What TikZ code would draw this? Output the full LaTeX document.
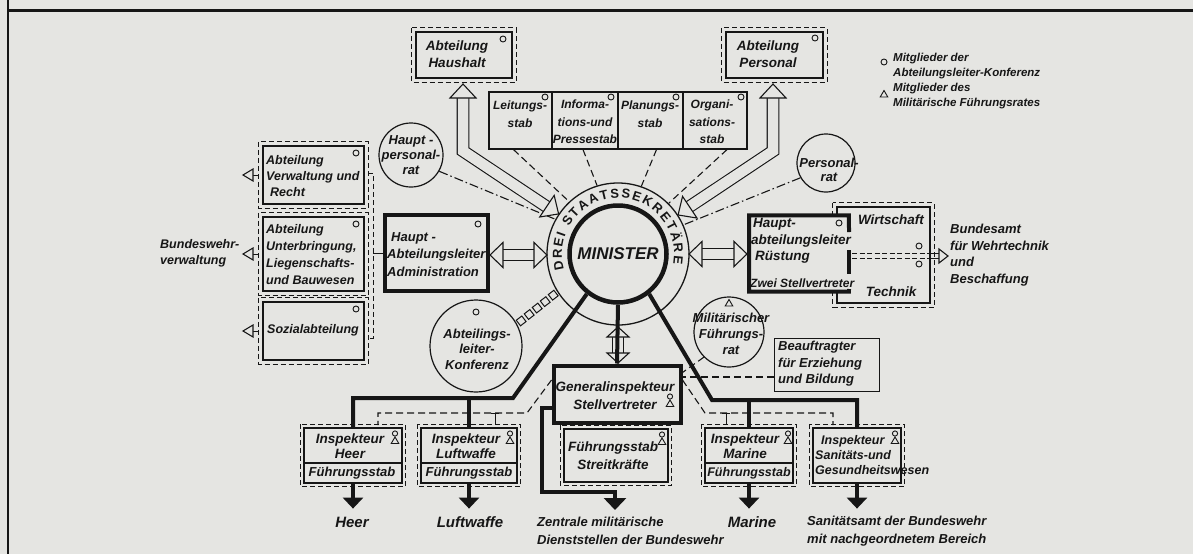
\documentclass[tikz,border=0pt]{standalone}
\usepackage{fontspec}
\setmainfont{Liberation Sans}
\usetikzlibrary{arrows.meta,decorations.text,calc}
\definecolor{paper}{RGB}{229,229,226}
\definecolor{ink}{RGB}{22,22,22}
\newcommand\hhead[4]{\begin{scope}[shift={(#1)},rotate=#2]\filldraw[draw=ink,fill=paper,line width=1.1pt,line join=miter] (0,0) -- (-#3,#4) -- (-#3,-#4) -- cycle;\end{scope}}
\newcommand\odash[2]{\draw[outerd] ([shift={(-#2,-#2)}]#1.north west) rectangle ([shift={(#2,#2)}]#1.south east);}
\newcommand\mem[2]{\draw[ink,line width=0.9pt,fill=paper] (#1,#2) circle[radius=3pt];}
\newcommand\tri[2]{\draw[ink,line width=0.9pt,line join=miter] (#1,#2) ++(0,-3.5) -- ++(-3.8,6.5) -- ++(7.6,0) -- cycle;}
\newcommand\both[2]{\draw[ink,line width=0.9pt] (#1,#2-3.5) circle[radius=2.6pt]; \tri{#1}{#2+3.5}}
\tikzset{
 fnt/.style 2 args={font=\bfseries\itshape\fontsize{#1}{#2}\selectfont},
 lbl/.style={fnt={13.5}{16.5}, align=center, inner sep=0pt, text=ink},
 box/.style={draw=ink, line width=1.2pt, inner sep=0pt, rectangle, fill=paper},
 thickbox/.style={draw=ink, line width=4pt, inner sep=0pt, rectangle, fill=paper},
 outerd/.style={draw=ink, line width=0.9pt, dash pattern=on 5pt off 3pt},
 conn/.style={draw=ink, line width=1.1pt, dash pattern=on 7pt off 4pt},
 dashdot/.style={draw=ink, line width=1.1pt, dash pattern=on 9pt off 3pt on 1.5pt off 3pt},
 main/.style={draw=ink, line width=4pt, line join=miter},
 hollow/.style={draw=ink, double=paper, line width=1.1pt, line join=miter},
 rnd/.style={circle, draw=ink, line width=1.2pt, inner sep=0pt, fill=paper},
 sq/.style={draw=ink, line width=1pt, minimum size=7pt, inner sep=0pt, fill=paper},
}
\begin{document}
\begin{tikzpicture}[x=1pt,y=-1pt]
\useasboundingbox (0,0) rectangle (1193,554);
\fill[paper] (0,0) rectangle (1193,554);
\draw[ink,line width=3pt] (8,10) -- (1193,10);
\draw[ink,line width=2.5pt] (8,0) -- (8,554);

% centre
\node[circle, draw=ink, line width=1.3pt, minimum size=142pt, inner sep=0pt, fill=paper] (ring) at (618,254) {};
\node[circle, draw=ink, line width=4.5pt, minimum size=97pt, inner sep=0pt, fill=paper, text=ink, font=\bfseries\itshape\fontsize{17}{17}\selectfont] (minister) at (618,254) {MINISTER};
\begin{scope}[shift={(618,254)}, y=1pt]
\path[decorate, decoration={text along path, text color=ink, text={|\bfseries\fontsize{13}{13}\selectfont|DREI STAATSSEKRETÄRE}, text align=fit to path}] (196:56) arc[start angle=196, end angle=-10, radius=56];
\end{scope}

% top boxes
\node[box, minimum width=96pt, minimum height=46pt] (haushalt) at (464,55) {};
\odash{haushalt}{3.5}
\node[lbl] (haushaltT) at (457,54) {Abteilung\\Haushalt};
\mem{503}{39}
\node[box, minimum width=97pt, minimum height=46pt] (personal) at (774.5,55) {};
\odash{personal}{3.5}
\node[lbl] (personalT) at (768,54) {Abteilung\\Personal};
\mem{815}{38}

% staff row
\node[box, minimum width=63pt, minimum height=57pt] (leit) at (520.5,120.5) {};
\node[box, minimum width=66pt, minimum height=57pt] (inf) at (585,120.5) {};
\node[box, minimum width=65pt, minimum height=57pt] (plan) at (650.5,120.5) {};
\node[box, minimum width=64pt, minimum height=57pt] (org) at (715,120.5) {};
\node[lbl, fnt={12}{17.5}] (leitT) at (520,114) {Leitungs-\\stab};
\node[lbl, fnt={12}{17.5}] (infT) at (585,122) {Informa-\\tions-und\\Pressestab};
\node[lbl, fnt={12}{17.5}] (planT) at (650,114) {Planungs-\\stab};
\node[lbl, fnt={12}{17.5}] (orgT) at (712,122) {Organi-\\sations-\\stab};
\mem{545}{97} \mem{611}{97} \mem{676}{97} \mem{741}{97}

% legend
\mem{884}{62}
\node[lbl, fnt={11.5}{15}, align=left, anchor=west] (legA) at (893,66) {Mitglieder der\\Abteilungsleiter-Konferenz};
\tri{884}{94}
\node[lbl, fnt={11.5}{15}, align=left, anchor=west] (legB) at (893,96) {Mitglieder des\\Militärische Führungsrates};

% left column
\node[box, minimum width=101pt, minimum height=58pt] (verw) at (313.5,175) {};
\odash{verw}{3.5}
\node[lbl, align=left, anchor=west, fnt={12.5}{16}] (verwT) at (266,176) {Abteilung\\Verwaltung und\\\hspace{4pt}Recht};
\mem{356}{153}
\node[box, minimum width=101pt, minimum height=74pt] (unterb) at (313.5,254) {};
\odash{unterb}{3.5}
\node[lbl, align=left, anchor=west, fnt={12.5}{17}] (unterbT) at (266,255) {Abteilung\\Unterbringung,\\Liegenschafts-\\und Bauwesen};
\mem{356}{224}
\node[box, minimum width=101pt, minimum height=58pt] (sozial) at (313.5,331) {};
\odash{sozial}{3.5}
\node[lbl, fnt={12.5}{16}] (sozialT) at (313,330) {Sozialabteilung};
\mem{356}{309}
\draw[outerd] (368,173) -- (373,173) -- (373,338) -- (368,338);
\node[lbl, fnt={12.5}{16.5}, align=left, anchor=west] (bwv) at (160,253.5) {Bundeswehr-\\verwaltung};
\foreach \yy in {175,254,331}{
 \draw[ink,line width=1pt] (259,\yy) -- (253,\yy);
 \hhead{243,\yy}{180}{10}{6}
}

% Administration
\node[thickbox, minimum width=103pt, minimum height=76pt] (admin) at (436,253) {};
\node[lbl, align=left, anchor=west, fnt={13}{17.5}] (adminT) at (387,254.5) {\hspace{4pt}Haupt -\\Abteilungsleiter\\Administration};
\mem{478}{224}
\draw[ink,line width=1pt] (373,253) -- (admin.west);

% circles
\node[rnd, minimum size=64pt] (hprat) at (411,155) {};
\node[lbl, fnt={13}{15}] (hpratT) at (411,155) {Haupt -\\personal-\\rat};
\node[rnd, minimum size=58pt] (prat) at (826,163) {};
\node[lbl, fnt={13}{14}] (pratT) at (829,170) {Personal-\\rat};
\node[rnd, minimum size=92pt] (konf) at (476,346) {};
\node[lbl, fnt={13}{15.5}] (konfT) at (477,349) {Abteilings-\\leiter-\\Konferenz};
\mem{476}{312}
\node[rnd, minimum size=70pt] (fr) at (729,332) {};
\node[lbl, fnt={13}{16}] (frT) at (731,334) {Militärischer\\Führungs-\\rat};
\tri{729}{303}

% Ruestung + Wirtschaft
\node[box, minimum width=93pt, minimum height=96pt] (wirt) at (883.5,255) {};
\odash{wirt}{3.5}
\node[inner sep=0pt, minimum width=99.5pt, minimum height=76pt, fill=paper] (ruest) at (799,253.5) {};
\draw[ink, line width=4pt, line join=miter] (849,232) -- (ruest.north east) -- (ruest.north west) -- (ruest.south west) -- (ruest.south east) -- (849,289);
\draw[ink, line width=4pt] (849,250) -- (849,274);
\node[lbl, align=left, anchor=west, fnt={13.5}{16.5}] (ruestT) at (751,241) {\hspace{2pt}Haupt-\\abteilungsleiter\\\hspace{4pt}Rüstung};
\node[lbl, anchor=west, fnt={12}{14}] (zwei) at (750,283) {Zwei Stellvertreter};
\mem{839}{223}
\node[lbl, fnt={13.5}{16}] (wirtT) at (891,220) {Wirtschaft};
\node[lbl, fnt={13.5}{16}] (techT) at (891,292) {Technik};
\mem{919}{246} \mem{919}{264}
\draw[ink, line width=1.1pt, dash pattern=on 5pt off 2.5pt] (852,253.5) -- (927,253.5);
\draw[ink, line width=1.1pt, dash pattern=on 5pt off 2.5pt] (852,258.5) -- (927,258.5);
\draw[ink, line width=1pt] (927,253.5) -- (940,253.5) (927,258.5) -- (940,258.5);
\hhead{948,256}{0}{9}{7}
\node[lbl, align=left, anchor=west, fnt={13}{16.7}] (bamt) at (950,255) {Bundesamt\\für Wehrtechnik\\und\\Beschaffung};

% Beauftragter
\node[box, line width=1pt, minimum width=105pt, minimum height=53pt] (beauf) at (826.5,364.5) {};
\node[lbl, align=left, anchor=west, fnt={13}{16.5}] (beaufT) at (778,364) {Beauftragter\\für Erziehung\\und Bildung};

% Generalinspekteur
\node[thickbox, minimum width=127pt, minimum height=57pt] (genins) at (617,394) {};
\node[lbl, fnt={13.5}{18}] (geninsT) at (615,396) {Generalinspekteur\\Stellvertreter};
\both{670}{400}
\node[box, minimum width=104pt, minimum height=53pt] (fstk) at (616,455.5) {};
\odash{fstk}{3}
\node[lbl, fnt={13.5}{18}] (fstkT) at (613,456) {Führungsstab\\Streitkräfte};
\both{662}{438}

% Inspekteure
\node[box, minimum width=98pt, minimum height=55pt] (heer) at (353,455.5) {};
\node[box, minimum width=96pt, minimum height=55pt] (luft) at (469,455.5) {};
\node[box, minimum width=88pt, minimum height=55pt] (marine) at (749,455.5) {};
\node[box, minimum width=88pt, minimum height=55pt] (sani) at (857,455.5) {};
\odash{heer}{3} \odash{luft}{3} \odash{marine}{3} \odash{sani}{3}
\draw[ink,line width=1.2pt] (heer.west |- 0,463) -- (heer.east |- 0,463);
\draw[ink,line width=1.2pt] (luft.west |- 0,463) -- (luft.east |- 0,463);
\draw[ink,line width=1.2pt] (marine.west |- 0,463) -- (marine.east |- 0,463);
\node[lbl, fnt={13.5}{14.5}] (heerT) at (350,446) {Inspekteur\\Heer};
\node[lbl, fnt={13}{14}] (heerF) at (352,473) {Führungsstab};
\node[lbl, fnt={13.5}{14.5}] (luftT) at (466,446) {Inspekteur\\Luftwaffe};
\node[lbl, fnt={13}{14}] (luftF) at (469,473) {Führungsstab};
\node[lbl, fnt={13.5}{14.5}] (marineT) at (745,446) {Inspekteur\\Marine};
\node[lbl, fnt={12.5}{14}] (marineF) at (749,473) {Führungsstab};
\node[lbl, align=left, anchor=west, fnt={12.5}{15}] (saniT) at (815,455) {\hspace{6pt}Inspekteur\\Sanitäts-und\\Gesundheitswesen};
\both{395}{437} \both{510}{437} \both{788}{437} \both{895}{437}

% bottom labels
\node[lbl, fnt={15}{17}] (heerL) at (352,522) {Heer};
\node[lbl, fnt={15}{17}] (luftL) at (470,522) {Luftwaffe};
\node[lbl, fnt={15}{17}] (marineL) at (752,522) {Marine};
\node[lbl, align=left, anchor=west, fnt={13}{18}] (zentL) at (537,531) {Zentrale militärische\\Dienststellen der Bundeswehr};
\node[lbl, align=left, anchor=west, fnt={13}{18}] (saniL) at (807,531) {Sanitätsamt der Bundeswehr\\mit nachgeordnetem Bereich};

% dashed connectors
\draw[conn] ([xshift=-7pt]leit.south) -- (ring.133);
\draw[conn] ([xshift=-2pt]inf.south) -- (ring.107);
\draw[conn] ([xshift=6pt]plan.south) -- (ring.71);
\draw[conn] ([xshift=12pt]org.south) -- (ring.45.5);
\draw[dashdot] (hprat.-30) -- (ring.151);
\draw[dashdot] (prat.210) -- (ring.24);
\draw[conn] ([yshift=14pt]genins.west) -- (527,413) -- (378,413) -- (378,425);
\draw[conn] ([yshift=14pt]genins.east) -- (705,413) -- (833,413) -- (833,425);
\draw[ink,line width=1pt] (495,413) -- (495,425) (491,413) -- (499,413);
\draw[ink,line width=1pt] (726,413) -- (726,425) (722,413) -- (730,413);
\draw[conn] (beauf.west |- 0,377) -- (genins.east |- 0,377);
\draw[conn] (fr.225) -- ([yshift=-9pt]genins.north east);

% chain of squares
\foreach \t/\n in {0.1/1,0.3/2,0.5/3,0.7/4,0.9/5}
 \node[sq, rotate=37.7] (sq\n) at ($(ring.212.6)!\t!(konf.28)$) {};

% hollow arrows
\draw[hollow, double distance=10.5pt] (463,98) -- (463,151) -- (547.4,207.2);
\hhead{463,84}{90}{14}{13}
\hhead{ring.146.5}{-33.7}{14}{13}
\draw[hollow, double distance=10.5pt] (773,98) -- (773,151) -- (688.6,207.2);
\hhead{773,84}{90}{14}{13}
\hhead{ring.33.5}{213.7}{14}{13}
\draw[hollow, double distance=10pt] (502,255) -- (535,255);
\hhead{490,255}{180}{13}{12.5}
\hhead{547,255}{0}{13}{12.5}
\draw[hollow, double distance=10pt] (701,254) -- (734,254);
\hhead{689,254}{180}{13}{12.5}
\hhead{747,254}{0}{13}{12.5}
\draw[hollow, double distance=10pt] (618,336) -- (618,354);
\hhead{618,327}{90}{10}{11}
\hhead{618,363}{-90}{10}{11}

% main lines
\draw[main] (minister.south) -- (genins.north);
\draw[main] (minister.232) -- (513,398) -- (heer.north |- 0,398) -- (heer.north);
\draw[main] (luft.north |- 0,398) -- (luft.north);
\draw[main] (minister.308) -- (712,400) -- (sani.north |- 0,400) -- (sani.north);
\draw[main] (marine.north |- 0,400) -- (marine.north);
\draw[main, -{Triangle[width=22pt,length=12pt]}] (genins.west |- 0,408) -- (542,408) -- (542,492) -- (615,492) -- (615,510);
\draw[main, -{Triangle[width=20pt,length=11pt]}] (heer.south) -- ++(0,25);
\draw[main, -{Triangle[width=20pt,length=11pt]}] (luft.south) -- ++(0,25);
\draw[main, -{Triangle[width=20pt,length=11pt]}] (marine.south) -- ++(0,25);
\draw[main, -{Triangle[width=20pt,length=11pt]}] (sani.south) -- ++(0,25);
\end{tikzpicture}
\end{document}
